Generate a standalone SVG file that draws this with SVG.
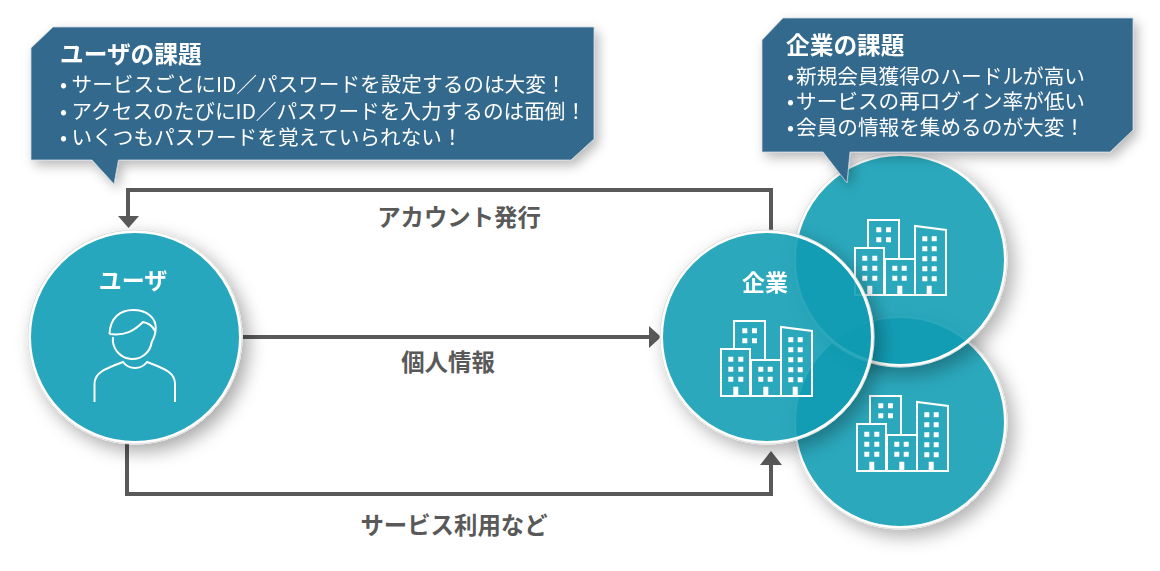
<svg xmlns="http://www.w3.org/2000/svg" width="1160" height="571" viewBox="0 0 1160 571">
<style>
text{font-family:"Noto Sans CJK JP","Noto Sans",sans-serif}
.ball{fill:#0c9cb4;fill-opacity:.875;stroke:#fff;stroke-width:3}
.ring{fill:none;stroke:#dcdcdc;stroke-width:1}
.bub{fill:#33698d;stroke:#c9d5de;stroke-width:.8}
.h{font-size:23.700px;font-weight:700;fill:#fff}
.b{font-size:20.650px;fill:#fff}
.n{font-size:23px;font-weight:700;fill:#fff;text-anchor:middle}
.l{font-size:23.400px;font-weight:700;fill:#595959;text-anchor:middle}
.c{fill:none;stroke:#595959;stroke-width:4}
.a{fill:#595959}
.ic{fill:none;stroke:#fff;stroke-width:2}
.w{fill:#fff}
</style>
<defs>
<filter id="sh" x="-20%" y="-20%" width="150%" height="150%">
<feGaussianBlur in="SourceAlpha" stdDeviation="9" result="b"/>
<feOffset in="b" dx="6" dy="7" result="o"/>
<feFlood flood-color="#000" flood-opacity=".34"/>
<feComposite in2="o" operator="in" result="s"/>
<feComposite in="s" in2="SourceAlpha" operator="out" result="s2"/>
<feMerge><feMergeNode in="s2"/><feMergeNode in="SourceGraphic"/></feMerge>
</filter>
<filter id="shb" x="-10%" y="-20%" width="120%" height="150%">
<feDropShadow dx="4" dy="5" stdDeviation="6" flood-color="#000" flood-opacity=".28"/>
</filter>
<g id="bld">
<path class="ic" d="M1 76V29H30V76ZM14 29V1H45V40M31 76V40H61V76ZM61 76V7L92 11V76H61Z"/>
<path class="w" d="M8.300 36.700h5v5h-5zM18.300 36.700h5v5h-5zM8.300 46.700h5v5h-5zM18.300 46.700h5v5h-5zM8.300 56.700h5v5h-5zM18.300 56.700h5v5h-5zM13.300 66.700h5v9.300h-5zM22.300 8.300h5v5h-5zM32 8.300h5v5h-5zM22.300 18.300h5v5h-5zM32 18.300h5v5h-5zM38.300 46.700h5v5h-5zM47.700 46.700h5v5h-5zM38.300 56.700h5v5h-5zM47.700 56.700h5v5h-5zM43.300 66.700h5v9.300h-5zM68.300 17.300h5v5h-5zM77.700 17.300h5v5h-5zM68.300 27.300h5v5h-5zM77.700 27.300h5v5h-5zM68.300 37.300h5v5h-5zM77.700 37.300h5v5h-5zM68.300 47.300h5v5h-5zM77.700 47.300h5v5h-5zM68.300 57.300h5v5h-5zM77.700 57.300h5v5h-5zM72.700 66.700h5v9.300h-5z"/>
</g>
</defs>
<g id="connectors">
<path class="c" d="M771 232V190H128V216"/>
<path class="a" d="M118 216H139L128.500 228Z"/>
<path class="c" d="M243 337H650"/>
<path class="a" d="M649 326V348L661 337Z"/>
<path class="c" d="M127 444V494H771V464"/>
<path class="a" d="M760 465H782L771 451Z"/>
</g>
<g id="label-account"><text class="l" x="459" y="226">アカウント発行</text></g>
<g id="label-personal"><text class="l" x="448" y="371">個人情報</text></g>
<g id="label-service"><text class="l" x="454" y="534">サービス利用など</text></g>
<g id="node-user" filter="url(#sh)">
<circle cx="135" cy="337" r="105.500" fill="#27a7bd" stroke="#fff" stroke-width="3"/>
<circle class="ring" cx="135" cy="337" r="107"/>
<text class="n" x="133" y="289">ユーザ</text>
<path class="ic" d="M109.500 334C110 318 120 310 133 310C147 310 156 318 155.700 328C155.700 334 154 338 151.700 342M109.500 334C125 336 134 331 143 322C149 323 153 327 155 331M113 337A19.500 19.500 0 0 0 151.700 342"/>
<path class="ic" d="M94.500 402V384C94.500 373 104 369 123 362C129 370 141 370 147 362C166 369 175 373 175 384V402"/>
</g>
<g id="node-company-bottom" filter="url(#sh)">
<circle class="ball" cx="900" cy="422" r="105.500"/>
<circle class="ring" cx="900" cy="422" r="107"/>
<use href="#bld" x="856" y="395"/>
</g>
<g id="node-company-top" filter="url(#sh)">
<circle class="ball" cx="900" cy="260" r="105.500"/>
<circle class="ring" cx="900" cy="260" r="107"/>
<use href="#bld" x="854" y="219"/>
</g>
<g id="node-company" filter="url(#sh)">
<circle class="ball" cx="767" cy="337" r="105.500"/>
<circle class="ring" cx="767" cy="337" r="107"/>
<text class="n" x="765" y="291">企業</text>
<use href="#bld" x="720" y="320"/>
</g>
<g id="bubble-user" filter="url(#shb)">
<path class="bub" d="M31 48L53 27H594V139L571 160H118.500L114 184L92 160H31Z"/>
<text class="h" x="60" y="63">ユーザの課題</text>
<text class="b" y="91.500"><tspan x="60">•</tspan><tspan x="71.500">サービスごとにID／パスワードを設定するのは大変！</tspan></text>
<text class="b" y="118.500"><tspan x="60">•</tspan><tspan x="71.500">アクセスのたびにID／パスワードを入力するのは面倒！</tspan></text>
<text class="b" y="144.500"><tspan x="60">•</tspan><tspan x="71.500">いくつもパスワードを覚えていられない！</tspan></text>
</g>
<g id="bubble-company" filter="url(#shb)">
<path class="bub" d="M762 40L783 18H1133V130L1110 152H850L847 183L823 152H762Z"/>
<text class="h" x="786" y="54">企業の課題</text>
<text class="b" y="84"><tspan x="787">•</tspan><tspan x="796">新規会員獲得のハードルが高い</tspan></text>
<text class="b" y="109"><tspan x="787">•</tspan><tspan x="796">サービスの再ログイン率が低い</tspan></text>
<text class="b" y="135"><tspan x="787">•</tspan><tspan x="796">会員の情報を集めるのが大変！</tspan></text>
</g>
</svg>
